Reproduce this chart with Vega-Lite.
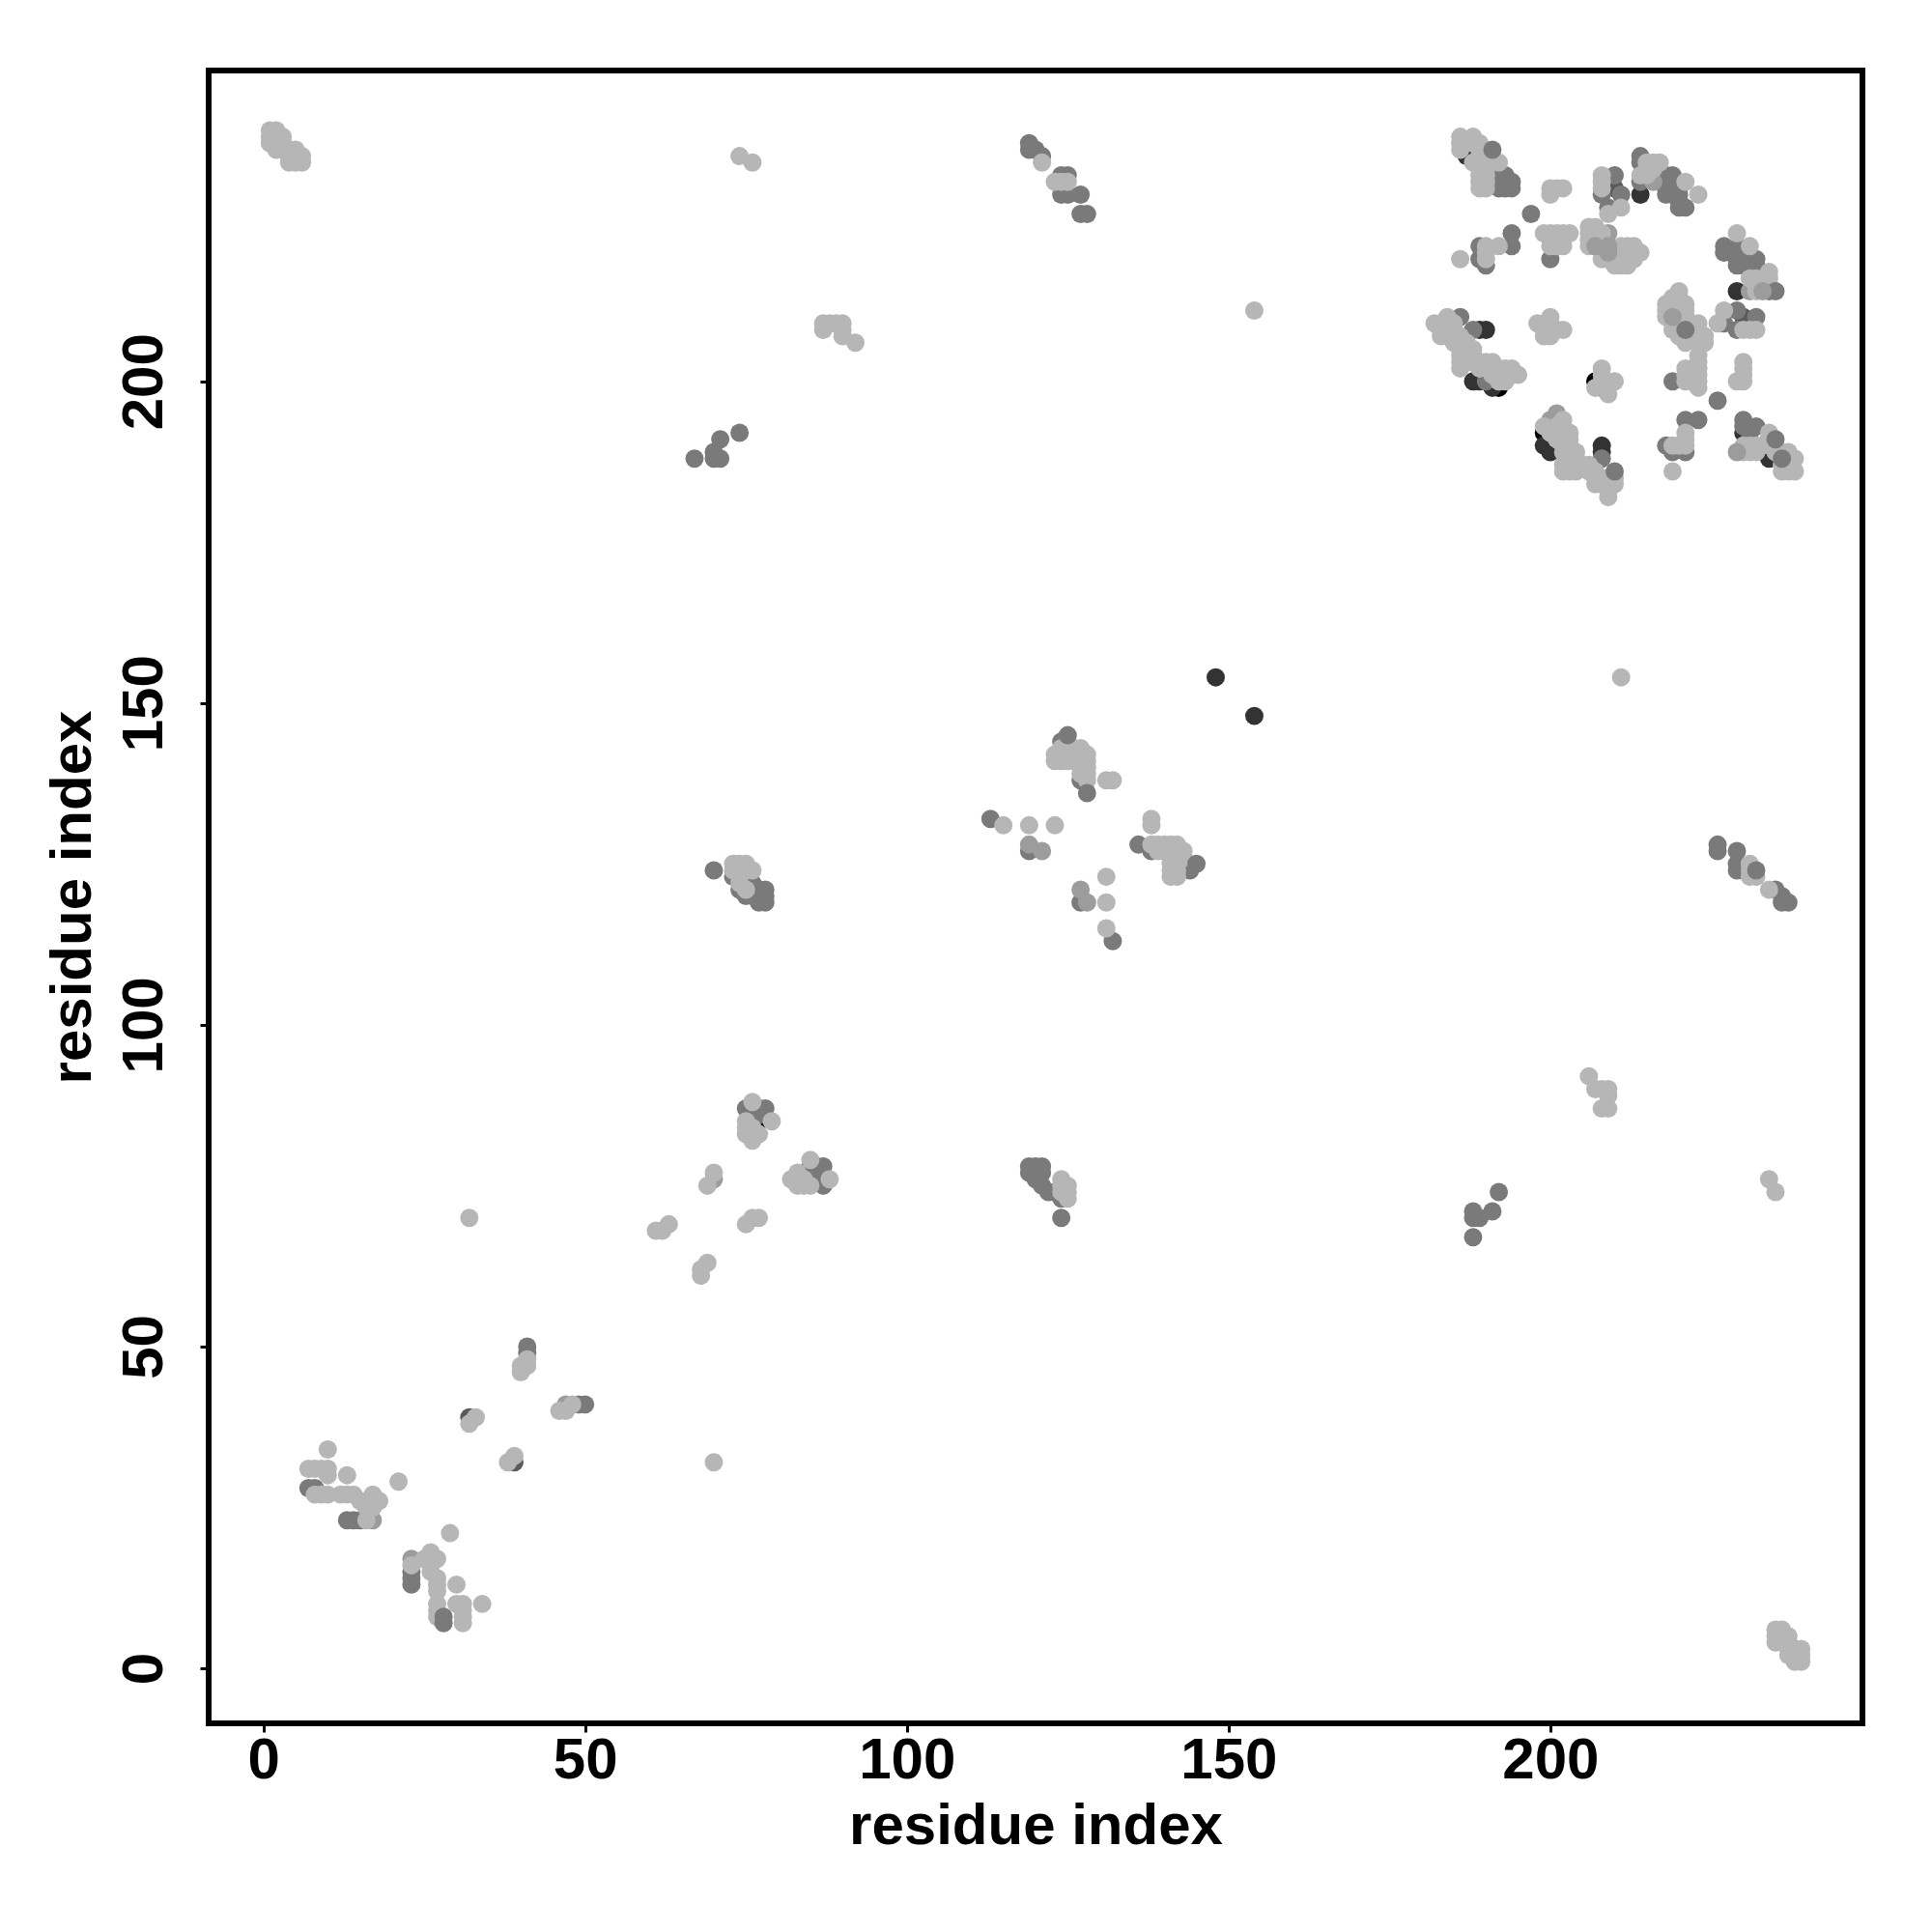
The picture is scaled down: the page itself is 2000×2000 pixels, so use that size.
{"$schema":"https://vega.github.io/schema/vega-lite/v6.json","width":1712,"height":1711,"autosize":"none","padding":{"left":216,"top":73,"right":72,"bottom":216},"background":"white",
"config":{"view":{"stroke":"black","strokeWidth":6,"fill":"white"}},
"data":{"values":[
{"x":77,"y":85,"s":"k"},{"x":85,"y":77,"s":"k"},{"x":200,"y":208,"s":"k"},{"x":207,"y":200,"s":"k"},{"x":208,"y":199,"s":"k"},{"x":192,"y":199,"s":"k"},{"x":199,"y":192,"s":"k"},
{"x":148,"y":154,"s":"d"},{"x":154,"y":148,"s":"d"},{"x":187,"y":235,"s":"d"},{"x":188,"y":235,"s":"d"},{"x":191,"y":231,"s":"d"},{"x":214,"y":229,"s":"d"},{"x":229,"y":214,"s":"d"},{"x":189,"y":208,"s":"d"},{"x":190,"y":208,"s":"d"},{"x":188,"y":200,"s":"d"},{"x":189,"y":200,"s":"d"},{"x":191,"y":199,"s":"d"},{"x":199,"y":190,"s":"d"},{"x":200,"y":189,"s":"d"},{"x":208,"y":190,"s":"d"},{"x":208,"y":189,"s":"d"},{"x":230,"y":192,"s":"d"},{"x":234,"y":188,"s":"d"},
{"x":32,"y":39,"s":"e"},{"x":39,"y":32,"s":"e"},{"x":210,"y":230,"s":"e"},{"x":230,"y":210,"s":"e"},
{"x":7,"y":28,"s":"m"},{"x":8,"y":28,"s":"m"},{"x":13,"y":23,"s":"m"},{"x":14,"y":23,"s":"m"},{"x":15,"y":23,"s":"m"},{"x":23,"y":15,"s":"m"},{"x":23,"y":14,"s":"m"},{"x":23,"y":13,"s":"m"},{"x":41,"y":50,"s":"m"},{"x":41,"y":49,"s":"m"},{"x":49,"y":41,"s":"m"},{"x":50,"y":41,"s":"m"},
{"x":75,"y":87,"s":"m"},{"x":77,"y":87,"s":"m"},{"x":78,"y":87,"s":"m"},{"x":77,"y":86,"s":"m"},{"x":85,"y":78,"s":"m"},{"x":86,"y":78,"s":"m"},{"x":87,"y":78,"s":"m"},{"x":86,"y":77,"s":"m"},{"x":87,"y":75,"s":"m"},{"x":87,"y":76,"s":"m"},
{"x":70,"y":124,"s":"m"},{"x":73,"y":123,"s":"m"},{"x":74,"y":121,"s":"m"},{"x":75,"y":120,"s":"m"},{"x":76,"y":122,"s":"m"},{"x":76,"y":121,"s":"m"},{"x":77,"y":121,"s":"m"},{"x":78,"y":121,"s":"m"},{"x":77,"y":120,"s":"m"},{"x":78,"y":120,"s":"m"},{"x":77,"y":119,"s":"m"},{"x":78,"y":119,"s":"m"},{"x":76,"y":120,"s":"m"},
{"x":119,"y":78,"s":"m"},{"x":120,"y":78,"s":"m"},{"x":121,"y":78,"s":"m"},{"x":119,"y":77,"s":"m"},{"x":120,"y":77,"s":"m"},{"x":121,"y":77,"s":"m"},{"x":120,"y":76,"s":"m"},{"x":121,"y":75,"s":"m"},{"x":122,"y":74,"s":"m"},{"x":123,"y":74,"s":"m"},{"x":124,"y":70,"s":"m"},{"x":124,"y":73,"s":"m"},
{"x":67,"y":188,"s":"m"},{"x":70,"y":188,"s":"m"},{"x":71,"y":188,"s":"m"},{"x":70,"y":189,"s":"m"},{"x":71,"y":191,"s":"m"},{"x":74,"y":192,"s":"m"},{"x":188,"y":67,"s":"m"},{"x":188,"y":70,"s":"m"},{"x":188,"y":71,"s":"m"},{"x":189,"y":70,"s":"m"},{"x":191,"y":71,"s":"m"},{"x":192,"y":74,"s":"m"},
{"x":119,"y":237,"s":"m"},{"x":119,"y":236,"s":"m"},{"x":120,"y":236,"s":"m"},{"x":121,"y":235,"s":"m"},{"x":124,"y":232,"s":"m"},{"x":125,"y":232,"s":"m"},{"x":124,"y":229,"s":"m"},{"x":125,"y":229,"s":"m"},{"x":127,"y":229,"s":"m"},{"x":127,"y":226,"s":"m"},{"x":128,"y":226,"s":"m"},
{"x":113,"y":132,"s":"m"},{"x":119,"y":127,"s":"m"},{"x":124,"y":144,"s":"m"},{"x":127,"y":138,"s":"m"},{"x":127,"y":119,"s":"m"},{"x":136,"y":128,"s":"m"},{"x":138,"y":127,"s":"m"},{"x":144,"y":124,"s":"m"},{"x":132,"y":113,"s":"m"},
{"x":226,"y":128,"s":"m"},{"x":226,"y":127,"s":"m"},{"x":229,"y":127,"s":"m"},{"x":229,"y":125,"s":"m"},{"x":229,"y":124,"s":"m"},{"x":230,"y":124,"s":"m"},{"x":235,"y":121,"s":"m"},{"x":236,"y":120,"s":"m"},{"x":236,"y":119,"s":"m"},{"x":237,"y":119,"s":"m"},
{"x":187,"y":237,"s":"m"},{"x":192,"y":232,"s":"m"},{"x":193,"y":232,"s":"m"},{"x":192,"y":231,"s":"m"},{"x":193,"y":231,"s":"m"},{"x":192,"y":230,"s":"m"},{"x":193,"y":230,"s":"m"},{"x":194,"y":230,"s":"m"},{"x":194,"y":231,"s":"m"},{"x":189,"y":221,"s":"m"},{"x":189,"y":219,"s":"m"},{"x":190,"y":218,"s":"m"},{"x":194,"y":223,"s":"m"},{"x":194,"y":221,"s":"m"},{"x":200,"y":219,"s":"m"},{"x":208,"y":229,"s":"m"},{"x":209,"y":227,"s":"m"},{"x":210,"y":232,"s":"m"},{"x":211,"y":229,"s":"m"},{"x":214,"y":235,"s":"m"},{"x":214,"y":234,"s":"m"},{"x":214,"y":231,"s":"m"},{"x":186,"y":210,"s":"m"},{"x":188,"y":208,"s":"m"},{"x":190,"y":200,"s":"m"},{"x":208,"y":188,"s":"m"},{"x":218,"y":190,"s":"m"},{"x":219,"y":189,"s":"m"},{"x":221,"y":189,"s":"m"},{"x":221,"y":194,"s":"m"},{"x":223,"y":194,"s":"m"},{"x":219,"y":200,"s":"m"},{"x":226,"y":197,"s":"m"},
{"x":217,"y":232,"s":"m"},{"x":218,"y":232,"s":"m"},{"x":219,"y":232,"s":"m"},{"x":217,"y":231,"s":"m"},{"x":218,"y":231,"s":"m"},{"x":219,"y":231,"s":"m"},{"x":218,"y":230,"s":"m"},{"x":219,"y":230,"s":"m"},{"x":220,"y":230,"s":"m"},{"x":218,"y":229,"s":"m"},{"x":219,"y":229,"s":"m"},{"x":220,"y":229,"s":"m"},{"x":220,"y":228,"s":"m"},{"x":220,"y":227,"s":"m"},{"x":221,"y":227,"s":"m"},
{"x":227,"y":221,"s":"m"},{"x":227,"y":220,"s":"m"},{"x":229,"y":221,"s":"m"},{"x":228,"y":220,"s":"m"},{"x":229,"y":219,"s":"m"},{"x":230,"y":219,"s":"m"},{"x":229,"y":218,"s":"m"},{"x":230,"y":218,"s":"m"},{"x":231,"y":218,"s":"m"},{"x":232,"y":219,"s":"m"},{"x":232,"y":218,"s":"m"},{"x":232,"y":217,"s":"m"},{"x":230,"y":220,"s":"m"},{"x":231,"y":219,"s":"m"},{"x":234,"y":214,"s":"m"},{"x":229,"y":211,"s":"m"},{"x":232,"y":210,"s":"m"},{"x":227,"y":209,"s":"m"},{"x":229,"y":208,"s":"m"},{"x":230,"y":194,"s":"m"},{"x":230,"y":193,"s":"m"},{"x":231,"y":192,"s":"m"},{"x":232,"y":193,"s":"m"},
{"x":23,"y":17,"s":"a"},{"x":17,"y":23,"s":"a"},{"x":47,"y":41,"s":"a"},{"x":70,"y":76,"s":"a"},{"x":119,"y":128,"s":"a"},{"x":121,"y":127,"s":"a"},{"x":127,"y":121,"s":"a"},{"x":128,"y":119,"s":"a"},{"x":201,"y":195,"s":"a"},{"x":200,"y":194,"s":"a"},{"x":207,"y":221,"s":"a"},{"x":208,"y":221,"s":"a"},{"x":209,"y":223,"s":"a"},{"x":209,"y":219,"s":"a"},{"x":216,"y":231,"s":"a"},{"x":231,"y":214,"s":"a"},
{"x":10,"y":34,"s":"l"},{"x":7,"y":31,"s":"l"},{"x":8,"y":31,"s":"l"},{"x":9,"y":31,"s":"l"},{"x":10,"y":31,"s":"l"},{"x":10,"y":30,"s":"l"},{"x":13,"y":30,"s":"l"},{"x":21,"y":29,"s":"l"},{"x":8,"y":27,"s":"l"},{"x":9,"y":27,"s":"l"},{"x":10,"y":27,"s":"l"},{"x":12,"y":27,"s":"l"},{"x":13,"y":27,"s":"l"},{"x":14,"y":27,"s":"l"},{"x":15,"y":26,"s":"l"},{"x":17,"y":27,"s":"l"},{"x":18,"y":26,"s":"l"},{"x":17,"y":26,"s":"l"},{"x":16,"y":25,"s":"l"},{"x":17,"y":25,"s":"l"},{"x":16,"y":23,"s":"l"},
{"x":29,"y":21,"s":"l"},{"x":23,"y":16,"s":"l"},{"x":25,"y":17,"s":"l"},{"x":26,"y":18,"s":"l"},{"x":27,"y":17,"s":"l"},{"x":26,"y":17,"s":"l"},{"x":26,"y":16,"s":"l"},{"x":26,"y":15,"s":"l"},{"x":27,"y":14,"s":"l"},{"x":27,"y":13,"s":"l"},{"x":27,"y":12,"s":"l"},{"x":27,"y":10,"s":"l"},{"x":27,"y":9,"s":"l"},{"x":27,"y":8,"s":"l"},{"x":30,"y":13,"s":"l"},{"x":30,"y":10,"s":"l"},{"x":31,"y":10,"s":"l"},{"x":34,"y":10,"s":"l"},{"x":31,"y":9,"s":"l"},{"x":31,"y":8,"s":"l"},{"x":31,"y":7,"s":"l"},
{"x":33,"y":39,"s":"l"},{"x":32,"y":38,"s":"l"},{"x":38,"y":32,"s":"l"},{"x":39,"y":33,"s":"l"},{"x":40,"y":46,"s":"l"},{"x":40,"y":47,"s":"l"},{"x":41,"y":47,"s":"l"},{"x":41,"y":48,"s":"l"},{"x":46,"y":40,"s":"l"},{"x":47,"y":40,"s":"l"},{"x":48,"y":41,"s":"l"},{"x":32,"y":70,"s":"l"},{"x":70,"y":32,"s":"l"},
{"x":61,"y":68,"s":"l"},{"x":62,"y":68,"s":"l"},{"x":63,"y":69,"s":"l"},{"x":68,"y":62,"s":"l"},{"x":68,"y":61,"s":"l"},{"x":69,"y":63,"s":"l"},{"x":70,"y":77,"s":"l"},{"x":69,"y":75,"s":"l"},{"x":76,"y":70,"s":"l"},{"x":77,"y":70,"s":"l"},{"x":75,"y":69,"s":"l"},
{"x":76,"y":88,"s":"l"},{"x":75,"y":85,"s":"l"},{"x":75,"y":84,"s":"l"},{"x":75,"y":83,"s":"l"},{"x":76,"y":84,"s":"l"},{"x":76,"y":83,"s":"l"},{"x":76,"y":82,"s":"l"},{"x":77,"y":83,"s":"l"},{"x":79,"y":85,"s":"l"},{"x":85,"y":79,"s":"l"},{"x":82,"y":76,"s":"l"},{"x":83,"y":77,"s":"l"},{"x":83,"y":75,"s":"l"},{"x":84,"y":76,"s":"l"},{"x":84,"y":75,"s":"l"},{"x":85,"y":75,"s":"l"},{"x":88,"y":76,"s":"l"},
{"x":73,"y":125,"s":"l"},{"x":74,"y":125,"s":"l"},{"x":75,"y":125,"s":"l"},{"x":73,"y":124,"s":"l"},{"x":74,"y":124,"s":"l"},{"x":75,"y":124,"s":"l"},{"x":76,"y":124,"s":"l"},{"x":74,"y":122,"s":"l"},{"x":75,"y":121,"s":"l"},
{"x":124,"y":76,"s":"l"},{"x":124,"y":75,"s":"l"},{"x":124,"y":74,"s":"l"},{"x":125,"y":75,"s":"l"},{"x":125,"y":74,"s":"l"},{"x":125,"y":73,"s":"l"},
{"x":74,"y":235,"s":"l"},{"x":76,"y":234,"s":"l"},{"x":87,"y":209,"s":"l"},{"x":88,"y":209,"s":"l"},{"x":89,"y":209,"s":"l"},{"x":90,"y":209,"s":"l"},{"x":87,"y":208,"s":"l"},{"x":90,"y":208,"s":"l"},{"x":90,"y":207,"s":"l"},{"x":92,"y":206,"s":"l"},{"x":154,"y":211,"s":"l"},{"x":211,"y":154,"s":"l"},{"x":206,"y":92,"s":"l"},{"x":207,"y":90,"s":"l"},{"x":208,"y":90,"s":"l"},{"x":209,"y":90,"s":"l"},{"x":209,"y":89,"s":"l"},{"x":208,"y":87,"s":"l"},{"x":209,"y":87,"s":"l"},{"x":234,"y":76,"s":"l"},{"x":235,"y":74,"s":"l"},
{"x":121,"y":234,"s":"l"},{"x":123,"y":231,"s":"l"},{"x":124,"y":231,"s":"l"},{"x":125,"y":231,"s":"l"},
{"x":123,"y":142,"s":"l"},{"x":123,"y":141,"s":"l"},{"x":124,"y":143,"s":"l"},{"x":124,"y":142,"s":"l"},{"x":124,"y":141,"s":"l"},{"x":125,"y":143,"s":"l"},{"x":125,"y":142,"s":"l"},{"x":125,"y":141,"s":"l"},{"x":126,"y":143,"s":"l"},{"x":126,"y":142,"s":"l"},{"x":127,"y":143,"s":"l"},{"x":127,"y":142,"s":"l"},{"x":127,"y":141,"s":"l"},{"x":127,"y":140,"s":"l"},{"x":127,"y":139,"s":"l"},{"x":128,"y":142,"s":"l"},{"x":128,"y":141,"s":"l"},{"x":128,"y":140,"s":"l"},{"x":128,"y":139,"s":"l"},{"x":128,"y":138,"s":"l"},{"x":131,"y":138,"s":"l"},{"x":132,"y":138,"s":"l"},
{"x":115,"y":131,"s":"l"},{"x":119,"y":131,"s":"l"},{"x":123,"y":131,"s":"l"},{"x":138,"y":132,"s":"l"},{"x":138,"y":131,"s":"l"},{"x":138,"y":128,"s":"l"},{"x":139,"y":128,"s":"l"},{"x":140,"y":128,"s":"l"},{"x":141,"y":128,"s":"l"},{"x":142,"y":128,"s":"l"},{"x":139,"y":127,"s":"l"},{"x":140,"y":127,"s":"l"},{"x":141,"y":127,"s":"l"},{"x":142,"y":127,"s":"l"},{"x":143,"y":127,"s":"l"},{"x":141,"y":126,"s":"l"},{"x":142,"y":126,"s":"l"},{"x":143,"y":126,"s":"l"},{"x":141,"y":125,"s":"l"},{"x":142,"y":125,"s":"l"},{"x":141,"y":124,"s":"l"},{"x":142,"y":124,"s":"l"},{"x":141,"y":123,"s":"l"},{"x":142,"y":123,"s":"l"},{"x":131,"y":123,"s":"l"},{"x":131,"y":119,"s":"l"},{"x":131,"y":115,"s":"l"},
{"x":231,"y":125,"s":"l"},{"x":231,"y":124,"s":"l"},{"x":232,"y":123,"s":"l"},{"x":231,"y":123,"s":"l"},{"x":234,"y":121,"s":"l"},
{"x":1,"y":239,"s":"l"},{"x":2,"y":239,"s":"l"},{"x":1,"y":238,"s":"l"},{"x":2,"y":238,"s":"l"},{"x":3,"y":238,"s":"l"},{"x":1,"y":237,"s":"l"},{"x":2,"y":237,"s":"l"},{"x":3,"y":237,"s":"l"},{"x":2,"y":236,"s":"l"},{"x":3,"y":236,"s":"l"},{"x":4,"y":236,"s":"l"},{"x":5,"y":236,"s":"l"},{"x":4,"y":235,"s":"l"},{"x":5,"y":235,"s":"l"},{"x":6,"y":235,"s":"l"},{"x":4,"y":234,"s":"l"},{"x":5,"y":234,"s":"l"},{"x":6,"y":234,"s":"l"},
{"x":235,"y":6,"s":"l"},{"x":236,"y":6,"s":"l"},{"x":235,"y":5,"s":"l"},{"x":236,"y":5,"s":"l"},{"x":237,"y":5,"s":"l"},{"x":235,"y":4,"s":"l"},{"x":236,"y":4,"s":"l"},{"x":237,"y":4,"s":"l"},{"x":237,"y":3,"s":"l"},{"x":238,"y":3,"s":"l"},{"x":239,"y":3,"s":"l"},{"x":237,"y":2,"s":"l"},{"x":238,"y":2,"s":"l"},{"x":239,"y":2,"s":"l"},{"x":238,"y":1,"s":"l"},{"x":239,"y":1,"s":"l"},
{"x":186,"y":238,"s":"l"},{"x":188,"y":238,"s":"l"},{"x":186,"y":237,"s":"l"},{"x":186,"y":236,"s":"l"},{"x":188,"y":237,"s":"l"},{"x":189,"y":237,"s":"l"},{"x":189,"y":236,"s":"l"},{"x":188,"y":234,"s":"l"},{"x":189,"y":235,"s":"l"},{"x":189,"y":234,"s":"l"},{"x":189,"y":233,"s":"l"},{"x":189,"y":232,"s":"l"},{"x":189,"y":231,"s":"l"},{"x":189,"y":230,"s":"l"},{"x":190,"y":235,"s":"l"},{"x":190,"y":234,"s":"l"},{"x":190,"y":233,"s":"l"},{"x":190,"y":232,"s":"l"},{"x":190,"y":231,"s":"l"},{"x":190,"y":230,"s":"l"},{"x":192,"y":234,"s":"l"},
{"x":200,"y":230,"s":"l"},{"x":201,"y":230,"s":"l"},{"x":202,"y":230,"s":"l"},{"x":200,"y":229,"s":"l"},{"x":192,"y":221,"s":"l"},{"x":190,"y":221,"s":"l"},{"x":186,"y":219,"s":"l"},{"x":190,"y":219,"s":"l"},{"x":190,"y":220,"s":"l"},
{"x":199,"y":223,"s":"l"},{"x":200,"y":223,"s":"l"},{"x":201,"y":223,"s":"l"},{"x":202,"y":223,"s":"l"},{"x":203,"y":223,"s":"l"},{"x":200,"y":222,"s":"l"},{"x":201,"y":222,"s":"l"},{"x":202,"y":222,"s":"l"},{"x":200,"y":221,"s":"l"},{"x":201,"y":221,"s":"l"},{"x":202,"y":221,"s":"l"},
{"x":206,"y":224,"s":"l"},{"x":207,"y":224,"s":"l"},{"x":206,"y":223,"s":"l"},{"x":206,"y":222,"s":"l"},{"x":206,"y":221,"s":"l"},{"x":207,"y":223,"s":"l"},{"x":208,"y":223,"s":"l"},{"x":207,"y":222,"s":"l"},{"x":208,"y":222,"s":"l"},{"x":208,"y":219,"s":"l"},{"x":211,"y":221,"s":"l"},{"x":212,"y":221,"s":"l"},{"x":213,"y":221,"s":"l"},{"x":214,"y":220,"s":"l"},{"x":212,"y":218,"s":"l"},{"x":211,"y":218,"s":"l"},{"x":210,"y":218,"s":"l"},{"x":213,"y":219,"s":"l"},{"x":210,"y":220,"s":"l"},{"x":211,"y":220,"s":"l"},{"x":212,"y":220,"s":"l"},{"x":213,"y":220,"s":"l"},{"x":210,"y":219,"s":"l"},{"x":211,"y":219,"s":"l"},{"x":212,"y":219,"s":"l"},
{"x":208,"y":232,"s":"l"},{"x":208,"y":230,"s":"l"},{"x":208,"y":231,"s":"l"},{"x":211,"y":227,"s":"l"},{"x":209,"y":226,"s":"l"},{"x":214,"y":232,"s":"l"},{"x":215,"y":234,"s":"l"},{"x":216,"y":234,"s":"l"},{"x":217,"y":234,"s":"l"},{"x":215,"y":233,"s":"l"},{"x":216,"y":233,"s":"l"},{"x":215,"y":232,"s":"l"},{"x":221,"y":231,"s":"l"},{"x":223,"y":229,"s":"l"},
{"x":229,"y":223,"s":"l"},{"x":231,"y":221,"s":"l"},{"x":234,"y":217,"s":"l"},{"x":234,"y":216,"s":"l"},{"x":234,"y":215,"s":"l"},{"x":232,"y":216,"s":"l"},{"x":231,"y":216,"s":"l"},{"x":232,"y":215,"s":"l"},{"x":232,"y":214,"s":"l"},
{"x":220,"y":214,"s":"l"},{"x":219,"y":213,"s":"l"},{"x":220,"y":213,"s":"l"},{"x":218,"y":212,"s":"l"},{"x":219,"y":212,"s":"l"},{"x":220,"y":212,"s":"l"},{"x":221,"y":212,"s":"l"},{"x":218,"y":211,"s":"l"},{"x":219,"y":211,"s":"l"},{"x":220,"y":211,"s":"l"},{"x":221,"y":211,"s":"l"},{"x":218,"y":210,"s":"l"},{"x":219,"y":210,"s":"l"},{"x":220,"y":210,"s":"l"},{"x":221,"y":210,"s":"l"},{"x":219,"y":209,"s":"l"},{"x":220,"y":209,"s":"l"},{"x":222,"y":209,"s":"l"},{"x":223,"y":209,"s":"l"},{"x":219,"y":208,"s":"l"},{"x":220,"y":208,"s":"l"},{"x":220,"y":207,"s":"l"},{"x":221,"y":207,"s":"l"},{"x":222,"y":208,"s":"l"},{"x":223,"y":208,"s":"l"},{"x":224,"y":207,"s":"l"},{"x":224,"y":206,"s":"l"},{"x":223,"y":207,"s":"l"},{"x":223,"y":206,"s":"l"},{"x":221,"y":206,"s":"l"},
{"x":226,"y":209,"s":"l"},{"x":227,"y":211,"s":"l"},{"x":230,"y":208,"s":"l"},{"x":231,"y":208,"s":"l"},{"x":232,"y":208,"s":"l"},
{"x":182,"y":209,"s":"l"},{"x":183,"y":209,"s":"l"},{"x":184,"y":210,"s":"l"},{"x":184,"y":209,"s":"l"},{"x":185,"y":209,"s":"l"},{"x":183,"y":207,"s":"l"},{"x":183,"y":208,"s":"l"},{"x":184,"y":208,"s":"l"},{"x":185,"y":208,"s":"l"},{"x":184,"y":207,"s":"l"},{"x":185,"y":207,"s":"l"},{"x":185,"y":206,"s":"l"},{"x":186,"y":207,"s":"l"},{"x":186,"y":206,"s":"l"},{"x":187,"y":206,"s":"l"},{"x":186,"y":205,"s":"l"},{"x":187,"y":205,"s":"l"},{"x":188,"y":205,"s":"l"},{"x":186,"y":204,"s":"l"},{"x":187,"y":204,"s":"l"},{"x":188,"y":204,"s":"l"},{"x":186,"y":203,"s":"l"},{"x":187,"y":203,"s":"l"},{"x":188,"y":203,"s":"l"},{"x":189,"y":203,"s":"l"},{"x":190,"y":203,"s":"l"},{"x":191,"y":203,"s":"l"},{"x":186,"y":202,"s":"l"},{"x":189,"y":202,"s":"l"},{"x":190,"y":202,"s":"l"},{"x":191,"y":202,"s":"l"},{"x":192,"y":202,"s":"l"},{"x":193,"y":202,"s":"l"},{"x":194,"y":202,"s":"l"},{"x":191,"y":201,"s":"l"},{"x":192,"y":201,"s":"l"},{"x":193,"y":201,"s":"l"},{"x":194,"y":201,"s":"l"},{"x":195,"y":201,"s":"l"},{"x":192,"y":200,"s":"l"},{"x":193,"y":200,"s":"l"},
{"x":198,"y":209,"s":"l"},{"x":200,"y":210,"s":"l"},{"x":200,"y":209,"s":"l"},{"x":201,"y":208,"s":"l"},{"x":202,"y":208,"s":"l"},{"x":199,"y":207,"s":"l"},{"x":200,"y":207,"s":"l"},
{"x":208,"y":202,"s":"l"},{"x":208,"y":201,"s":"l"},{"x":208,"y":200,"s":"l"},{"x":207,"y":199,"s":"l"},{"x":209,"y":198,"s":"l"},{"x":210,"y":200,"s":"l"},
{"x":199,"y":193,"s":"l"},{"x":202,"y":194,"s":"l"},{"x":202,"y":193,"s":"l"},{"x":202,"y":192,"s":"l"},{"x":202,"y":191,"s":"l"},{"x":202,"y":190,"s":"l"},{"x":201,"y":193,"s":"l"},{"x":201,"y":192,"s":"l"},{"x":200,"y":192,"s":"l"},{"x":201,"y":191,"s":"l"},{"x":203,"y":192,"s":"l"},{"x":203,"y":191,"s":"l"},{"x":203,"y":190,"s":"l"},{"x":202,"y":189,"s":"l"},{"x":203,"y":189,"s":"l"},{"x":204,"y":189,"s":"l"},{"x":203,"y":188,"s":"l"},{"x":204,"y":188,"s":"l"},{"x":202,"y":187,"s":"l"},{"x":203,"y":187,"s":"l"},{"x":204,"y":187,"s":"l"},{"x":205,"y":187,"s":"l"},{"x":202,"y":186,"s":"l"},{"x":203,"y":186,"s":"l"},{"x":204,"y":186,"s":"l"},{"x":206,"y":187,"s":"l"},{"x":206,"y":186,"s":"l"},{"x":207,"y":186,"s":"l"},{"x":207,"y":185,"s":"l"},{"x":208,"y":185,"s":"l"},{"x":209,"y":185,"s":"l"},{"x":207,"y":184,"s":"l"},{"x":208,"y":184,"s":"l"},{"x":209,"y":184,"s":"l"},{"x":209,"y":183,"s":"l"},{"x":209,"y":182,"s":"l"},{"x":210,"y":185,"s":"l"},{"x":210,"y":184,"s":"l"},
{"x":221,"y":192,"s":"l"},{"x":221,"y":191,"s":"l"},{"x":221,"y":190,"s":"l"},{"x":219,"y":190,"s":"l"},{"x":220,"y":190,"s":"l"},{"x":219,"y":186,"s":"l"},
{"x":221,"y":202,"s":"l"},{"x":223,"y":203,"s":"l"},{"x":223,"y":204,"s":"l"},{"x":223,"y":202,"s":"l"},{"x":223,"y":201,"s":"l"},{"x":223,"y":200,"s":"l"},{"x":223,"y":199,"s":"l"},{"x":221,"y":201,"s":"l"},{"x":222,"y":201,"s":"l"},{"x":222,"y":200,"s":"l"},{"x":221,"y":200,"s":"l"},{"x":230,"y":203,"s":"l"},{"x":230,"y":202,"s":"l"},{"x":230,"y":201,"s":"l"},{"x":229,"y":200,"s":"l"},{"x":230,"y":200,"s":"l"},
{"x":234,"y":192,"s":"l"},{"x":234,"y":191,"s":"l"},{"x":233,"y":190,"s":"l"},{"x":235,"y":190,"s":"l"},{"x":230,"y":190,"s":"l"},{"x":230,"y":189,"s":"l"},{"x":231,"y":189,"s":"l"},{"x":232,"y":189,"s":"l"},{"x":231,"y":190,"s":"l"},{"x":232,"y":190,"s":"l"},{"x":235,"y":189,"s":"l"},{"x":237,"y":189,"s":"l"},{"x":236,"y":189,"s":"l"},{"x":236,"y":188,"s":"l"},{"x":237,"y":188,"s":"l"},{"x":238,"y":188,"s":"l"},{"x":236,"y":187,"s":"l"},{"x":237,"y":187,"s":"l"},{"x":236,"y":186,"s":"l"},{"x":237,"y":186,"s":"l"},{"x":238,"y":186,"s":"l"},
{"x":28,"y":8,"s":"m"},{"x":28,"y":7,"s":"m"},{"x":197,"y":226,"s":"m"},{"x":191,"y":236,"s":"m"},{"x":210,"y":186,"s":"m"},{"x":235,"y":191,"s":"m"},{"x":235,"y":214,"s":"m"},{"x":145,"y":125,"s":"m"},{"x":125,"y":145,"s":"m"},{"x":128,"y":136,"s":"m"},{"x":232,"y":124,"s":"m"},{"x":236,"y":188,"s":"m"},{"x":229,"y":189,"s":"a"},{"x":233,"y":214,"s":"a"},{"x":207,"y":221,"s":"a"},{"x":209,"y":221,"s":"a"},{"x":209,"y":220,"s":"a"},{"x":221,"y":208,"s":"m"},{"x":219,"y":210,"s":"a"}
]},
"mark":{"type":"point","filled":true,"opacity":1,"size":360,"shape":"circle"},
"encoding":{
"x":{"field":"x","type":"quantitative","scale":{"domain":[-8.51,248.51],"nice":false,"zero":false},"axis":{"title":"residue index","values":[0,50,100,150,200],"grid":false,"domain":false,"tickColor":"black","tickWidth":3,"tickSize":9,"labelFont":"Liberation Sans","labelFontWeight":"bold","labelFontSize":60,"labelColor":"black","labelPadding":0,"titleFont":"Liberation Sans","titleFontWeight":"bold","titleFontSize":60,"titleColor":"black","titlePadding":9}},
"y":{"field":"y","type":"quantitative","scale":{"domain":[-8.56,248.3],"nice":false,"zero":false},"axis":{"title":"residue index","values":[0,50,100,150,200],"grid":false,"domain":false,"tickColor":"black","tickWidth":3,"tickSize":9,"labelFont":"Liberation Sans","labelFontWeight":"bold","labelFontSize":60,"labelColor":"black","labelAngle":270,"labelAlign":"center","labelBaseline":"bottom","labelPadding":27,"titleFont":"Liberation Sans","titleFontWeight":"bold","titleFontSize":60,"titleColor":"black","titlePadding":13}},
"color":{"field":"s","type":"nominal","legend":null,"scale":{"domain":["k","d","e","m","a","l"],"range":["#000000","#333333","#5a5a5a","#7a7a7a","#9c9c9c","#b6b6b6"]}}
}}
